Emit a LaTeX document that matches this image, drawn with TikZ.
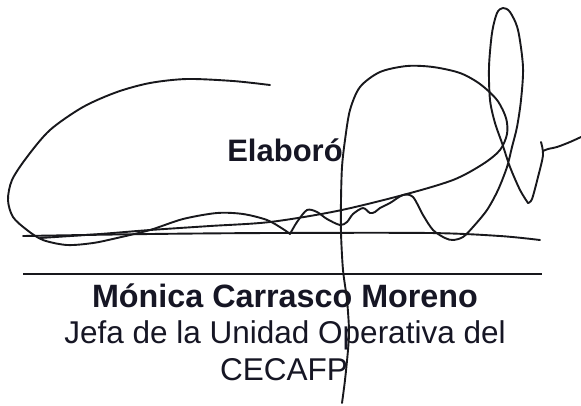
\documentclass[tikz,border=0pt]{standalone}
\usepackage{fontspec}
\setmainfont{Liberation Sans}
\definecolor{txt}{RGB}{22,22,36}
\definecolor{ink}{RGB}{24,24,28}
\begin{document}
\begin{tikzpicture}[x=1bp,y=-1bp,
  sig/.style={draw=ink,line width=1.9bp,line cap=round,line join=round},
  rulestyle/.style={draw=ink,line width=1.3bp},
  lbl/.style={anchor=base,inner sep=0pt,text=txt,font=\fontsize{31.5bp}{37bp}\selectfont}]
\useasboundingbox[fill=white] (0,0) rectangle (581,405);
% signature rule
\coordinate (rl) at (23,274);
\coordinate (rr) at (542,274);
\draw[rulestyle] (rl) -- (rr);
% texts
\node[lbl,font=\fontsize{31bp}{37bp}\selectfont\bfseries] (elab) at (285,161) {Elaboró};
\node[lbl,font=\fontsize{32.3bp}{37bp}\selectfont\bfseries] (name) at (285,307) {Mónica Carrasco Moreno};
\node[lbl] (role) at (285,343) {Jefa de la Unidad Operativa del};
\node[lbl] (unit) at (284,380) {CECAFP};
% signature strokes
\draw[sig] plot[smooth] coordinates {(270,85) (233,81) (187,79) (150,83) (117,92) (83,107) (50,130) (27,157) (12,180) (8,200) (13,217) (27,230) (43,240) (67,245) (93,243) (117,238) (150,230) (183,219) (217,213) (243,214) (267,220) (283,229) (290,234)};
\draw[sig] plot[smooth] coordinates {(290,234) (297,222) (307,210) (317,212) (327,219) (340,225) (347,222) (353,214) (363,208) (370,213) (375,212) (380,208) (390,203) (403,195) (413,197) (423,215) (433,230) (445,238) (453,240) (463,237) (473,227) (487,210) (498,190) (507,167) (512,147) (517,127) (521,100) (523,67) (518,30) (510,12) (503,8) (497,13) (492,33) (489,67) (490,100) (495,123) (502,143) (510,167) (520,190) (528,203)};
\draw[sig] plot[smooth] coordinates {(528,203) (532,199) (538,177) (543,155) (541,142)};
\draw[sig] plot[smooth] coordinates {(543,151) (548,149) (557,147) (570,142) (581,137)};
\draw[sig] plot[smooth] coordinates {(40,238) (100,234) (150,230) (210,226) (270,222) (337,211) (403,195) (453,180) (483,164) (500,150) (507,134) (506,118) (497,100) (480,84) (460,73) (433,67) (407,66) (380,72) (360,87) (350,110) (345,140) (342,167) (341,200) (341,233) (343,270) (347,300) (349,330) (348,350) (345,380) (342,403)};
\draw[sig] plot[smooth] coordinates {(23,236) (150,234) (270,233) (430,233) (500,236) (540,240)};
\end{tikzpicture}
\end{document}
